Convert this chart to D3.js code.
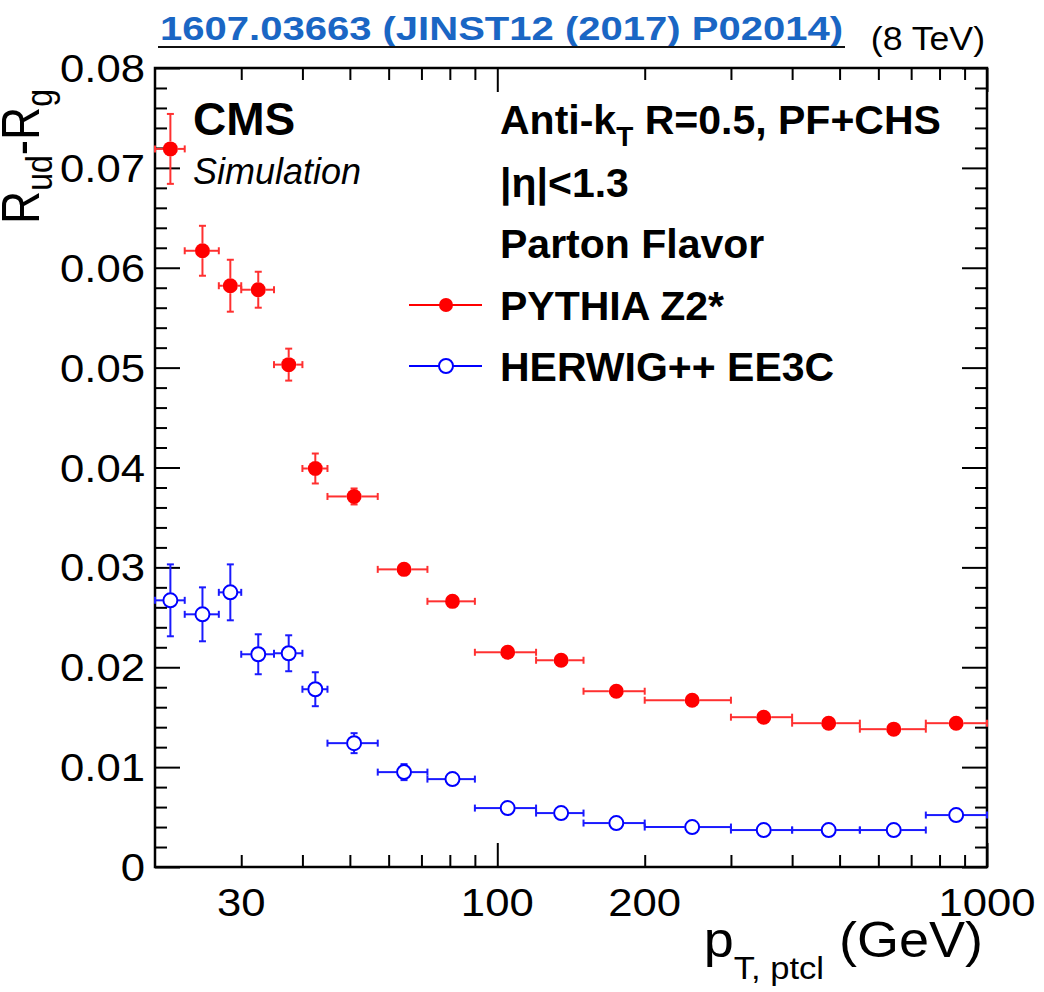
<!DOCTYPE html>
<html>
<head>
<meta charset="utf-8">
<script src="https://cdn.jsdelivr.net/npm/d3@7"></script>
<style>
  body { margin: 0; background: #fff; }
  svg { font-family: "Liberation Sans", Arial, Helvetica, sans-serif; }
</style>
</head>
<body>
<div id="canvas"></div>
<script>
// 資料：pT 分箱、點位置與兩組模擬
const binEdges = [20, 23, 27, 30, 35, 40, 45, 57, 72, 90, 120, 150, 200, 300, 400, 550, 750, 1000];
const ptPoints = [21.5, 25, 28.5, 32.5, 37.5, 42.5, 51, 64.5, 81, 105, 135, 175, 250, 350, 475, 645, 865];

const pythiaVals = [0.0719, 0.0617, 0.0582, 0.0578, 0.0503, 0.0399, 0.0371, 0.0298, 0.0266, 0.0215, 0.0207, 0.0176, 0.0167, 0.0150, 0.0144, 0.0138, 0.0144];
const pythiaErrs = [0.0035, 0.0025, 0.0026, 0.0018, 0.0016, 0.0015, 0.0008, 0.0004, 0.0004, 0.0003, 0.0003, 0.0003, 0.0003, 0.0003, 0.0003, 0.0003, 0.0003];

const herwigVals = [0.0267, 0.0253, 0.0275, 0.0213, 0.0214, 0.0178, 0.0124, 0.0095, 0.0088, 0.0059, 0.0054, 0.0044, 0.0040, 0.0037, 0.0037, 0.0037, 0.0052];
const herwigErrs = [0.0036, 0.0027, 0.0028, 0.0020, 0.0018, 0.0017, 0.001, 0.0008, 0.0004, 0.0003, 0.0003, 0.0003, 0.0003, 0.0003, 0.0003, 0.0003, 0.0003];

const xTickLabels = [30, 100, 200, 1000];
const xMajorTicks = [100, 1000];
const xMinorTicks = [30, 40, 50, 60, 70, 80, 90, 200, 300, 400, 500, 600, 700, 800, 900];
const yTickLabels = [0, 0.01, 0.02, 0.03, 0.04, 0.05, 0.06, 0.07, 0.08];

// 版面
const W = 1044, H = 992;
const frame = { left: 155, right: 987, top: 68, bottom: 867 };
const stretch = 1.12; // ROOT 字型看起來橫向較寬

const svg = d3.select("#canvas").append("svg").attr("width", W).attr("height", H);

const x = d3.scaleLog().domain([20, 1000]).range([frame.left, frame.right]);
const y = d3.scaleLinear().domain([0, 0.08]).range([frame.bottom, frame.top]);

// 刻度（內向，四邊）
const yMinor = d3.range(0, 0.0801, 0.002).filter(v => Math.abs(v * 100 - Math.round(v * 100)) > 1e-6);

function ticks(axis, tx, ty) {
  svg.append("g")
    .attr("transform", `translate(${tx},${ty})`)
    .call(axis.tickFormat(""))
    .call(g => g.select(".domain").remove())
    .call(g => g.selectAll("line").attr("stroke", "#000").attr("stroke-width", 2));
}
ticks(d3.axisBottom(x).tickValues(xMinorTicks).tickSize(-12), 0, frame.bottom);
ticks(d3.axisBottom(x).tickValues(xMajorTicks).tickSize(-24), 0, frame.bottom);
ticks(d3.axisTop(x).tickValues(xMinorTicks).tickSize(-12), 0, frame.top);
ticks(d3.axisTop(x).tickValues(xMajorTicks).tickSize(-24), 0, frame.top);
ticks(d3.axisLeft(y).tickValues(yMinor).tickSize(-12), frame.left, 0);
ticks(d3.axisLeft(y).tickValues(yTickLabels).tickSize(-25), frame.left, 0);
ticks(d3.axisRight(y).tickValues(yMinor).tickSize(-12), frame.right, 0);
ticks(d3.axisRight(y).tickValues(yTickLabels).tickSize(-25), frame.right, 0);

svg.append("rect")
  .attr("x", frame.left).attr("y", frame.top)
  .attr("width", frame.right - frame.left).attr("height", frame.bottom - frame.top)
  .attr("fill", "none").attr("stroke", "#000").attr("stroke-width", 2.5);

// 刻度文字
svg.selectAll(".ylab").data(yTickLabels).join("text")
  .attr("class", "ylab")
  .attr("transform", d => `translate(145,${y(d) + 14}) scale(${stretch},1)`)
  .attr("text-anchor", "end")
  .style("font-size", "39px")
  .text(d => d === 0 ? "0" : d3.format(".2f")(d));

svg.selectAll(".xlab").data(xTickLabels).join("text")
  .attr("class", "xlab")
  .attr("transform", d => `translate(${x(d)},916) scale(${stretch},1)`)
  .attr("text-anchor", "middle")
  .style("font-size", "39px")
  .text(d => d);

// 軸標題
const xt = svg.append("text")
  .attr("transform", `translate(983,957) scale(1.08,1)`)
  .attr("text-anchor", "end")
  .style("font-size", "50px");
xt.append("tspan").text("p");
xt.append("tspan").attr("dy", 22).style("font-size", "32px").text("T, ptcl");
xt.append("tspan").attr("dy", -22).text(" (GeV)");

const yt = svg.append("text")
  .attr("transform", `translate(39,224) scale(1.15,1) rotate(-90)`)
  .attr("text-anchor", "start")
  .style("font-size", "46px");
yt.append("tspan").text("R");
yt.append("tspan").attr("dy", 11).style("font-size", "32px").text("ud");
yt.append("tspan").attr("dy", -11).text("-R");
yt.append("tspan").attr("dy", 11).style("font-size", "32px").text("g");

// 資料點（ROOT 風格誤差棒：不穿過標記）
const R = 7.5, CAP = 3.5;
function drawSeries(vals, errs, color, lineColor, open) {
  const g = svg.append("g");
  vals.forEach((v, i) => {
    const cx = x(ptPoints[i]), cy = y(v);
    const x0 = x(binEdges[i]), x1 = x(binEdges[i + 1]);
    const yTop = y(v + errs[i]), yBot = y(v - errs[i]);
    const segs = [];
    if (cx - R > x0) segs.push([x0, cy, cx - R, cy]);
    if (x1 > cx + R) segs.push([cx + R, cy, x1, cy]);
    segs.push([x0, cy - CAP, x0, cy + CAP]);
    segs.push([x1, cy - CAP, x1, cy + CAP]);
    if (cy - yTop > R) {
      segs.push([cx, yTop, cx, cy - R]);
      segs.push([cx, cy + R, cx, yBot]);
      segs.push([cx - CAP, yTop, cx + CAP, yTop]);
      segs.push([cx - CAP, yBot, cx + CAP, yBot]);
    }
    g.selectAll(null).data(segs).join("line")
      .attr("x1", d => d[0]).attr("y1", d => d[1])
      .attr("x2", d => d[2]).attr("y2", d => d[3])
      .attr("stroke", lineColor).attr("stroke-width", 2);
    g.append("circle")
      .attr("cx", cx).attr("cy", cy)
      .attr("r", open ? R - 0.5 : R)
      .attr("fill", open ? "#fff" : color)
      .attr("stroke", open ? color : "none")
      .attr("stroke-width", 2);
  });
}
drawSeries(herwigVals, herwigErrs, "#0000ff", "#1a1aff", true);
drawSeries(pythiaVals, pythiaErrs, "#ff0000", "#ff3030", false);

// 文字標註
svg.append("text").attr("x", 193).attr("y", 135)
  .style("font-size", "46px").style("font-weight", "bold").text("CMS");
svg.append("text").attr("x", 193).attr("y", 184)
  .style("font-size", "36px").style("font-style", "italic").text("Simulation");

const a = svg.append("text").attr("x", 500).attr("y", 134)
  .style("font-size", "41px").style("font-weight", "bold");
a.append("tspan").text("Anti-k");
a.append("tspan").attr("dy", 12).style("font-size", "28px").text("T");
a.append("tspan").attr("dy", -12).text(" R=0.5, PF+CHS");

svg.append("text").attr("x", 500).attr("y", 197)
  .style("font-size", "41px").style("font-weight", "bold").text("|η|<1.3");
svg.append("text").attr("x", 500).attr("y", 258)
  .style("font-size", "41px").style("font-weight", "bold").text("Parton Flavor");

// 圖例
const legend = [
  { name: "PYTHIA Z2*", color: "#ff0000", open: false, ly: 305 },
  { name: "HERWIG++ EE3C", color: "#0000ff", open: true, ly: 366 }
];
legend.forEach(l => {
  svg.append("line").attr("x1", 409).attr("x2", 482).attr("y1", l.ly).attr("y2", l.ly)
    .attr("stroke", l.color).attr("stroke-width", 2);
  svg.append("circle").attr("cx", 446).attr("cy", l.ly).attr("r", 7)
    .attr("fill", l.open ? "#fff" : l.color)
    .attr("stroke", l.open ? l.color : "none").attr("stroke-width", 2);
  svg.append("text").attr("x", 500).attr("y", l.ly + 15)
    .style("font-size", "41px").style("font-weight", "bold").text(l.name);
});

// 標題列
svg.append("text").attr("x", 160).attr("y", 40)
  .attr("textLength", 683).attr("lengthAdjust", "spacingAndGlyphs")
  .style("font-size", "34px").style("font-weight", "bold").style("fill", "#1a66c4")
  .text("1607.03663 (JINST12 (2017) P02014)");
svg.append("line").attr("x1", 158).attr("x2", 845).attr("y1", 47).attr("y2", 47)
  .attr("stroke", "#111").attr("stroke-width", 2);
svg.append("text")
  .attr("transform", `translate(985,50) scale(1.08,1)`)
  .attr("text-anchor", "end")
  .style("font-size", "33px").text("(8 TeV)");
</script>
</body>
</html>
